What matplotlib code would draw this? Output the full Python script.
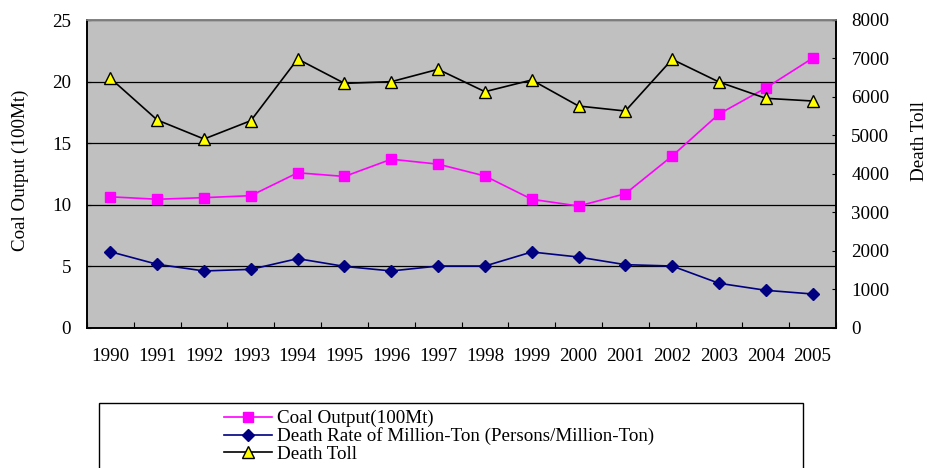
import matplotlib
matplotlib.use("Agg")
import matplotlib.pyplot as plt
from matplotlib.lines import Line2D
from matplotlib.patches import Rectangle
from matplotlib.ticker import FixedLocator, NullFormatter

plt.rcParams['font.family'] = ['Liberation Serif', 'DejaVu Serif']

years = ['1990', '1991', '1992', '1993', '1994', '1995', '1996', '1997',
         '1998', '1999', '2000', '2001', '2002', '2003', '2004', '2005']
coal_output = [10.65, 10.45, 10.58, 10.74, 12.6, 12.3, 13.7, 13.3,
               12.34, 10.45, 9.9, 10.9, 13.96, 17.37, 19.48, 21.9]
death_rate = [6.19, 5.17, 4.63, 4.76, 5.63, 5.0, 4.63, 5.03,
              5.03, 6.17, 5.76, 5.14, 5.03, 3.63, 3.06, 2.76]
death_toll = [6486, 5403, 4909, 5385, 6987, 6355, 6398, 6719,
              6138, 6442, 5766, 5636, 6979, 6390, 5966, 5896]

FS = 13.7
W, H = 927, 468
fig = plt.figure(figsize=(W / 100, H / 100), dpi=100)
ax = fig.add_axes([87 / W, (H - 328) / H, 749 / W, 308 / H])
ax.set_facecolor('#C0C0C0')

x = list(range(len(years)))
ax.plot(x, coal_output, color='#FF00FF', lw=1.2, marker='s', ms=7.2,
        mfc='#FF00FF', mec='#FF00FF', zorder=3)
ax.plot(x, death_rate, color='#000080', lw=1.2, marker='D', ms=6,
        mfc='#000080', mec='#000080', zorder=3)

ax.set_xlim(-0.5, len(years) - 0.5)
ax.set_ylim(0, 25)
ax.set_yticks(range(0, 26, 5))
ax.yaxis.grid(True, color='black', lw=0.9)
ax.set_axisbelow(True)

ax.set_xticks(x)
ax.set_xticklabels(years)
ax.xaxis.set_minor_locator(FixedLocator([i - 0.5 for i in range(len(years) + 1)]))
ax.xaxis.set_minor_formatter(NullFormatter())
ax.tick_params(axis='x', which='major', length=0, pad=14.5, labelsize=FS)
ax.tick_params(axis='x', which='minor', direction='in', length=4, width=0.8)
ax.tick_params(axis='y', direction='in', length=3, pad=11.5, labelsize=FS)

ax.set_ylabel('Coal Output (100Mt)', fontsize=FS, va='center')
ax.yaxis.set_label_coords(-0.0895, 0.513)

ax2 = ax.twinx()
ax2.plot(x, death_toll, color='black', lw=1.2, marker='^', ms=9,
         mfc='#FFFF00', mec='black', mew=1, zorder=3)
ax2.set_ylim(0, 8000)
ax2.set_yticks(range(0, 8001, 1000))
ax2.tick_params(axis='y', direction='in', length=3, pad=11, labelsize=FS)
ax2.set_ylabel('Death Toll', fontsize=FS, rotation=90, va='center')
ax2.yaxis.set_label_coords(1.112, 0.607)

for a in (ax, ax2):
    a.spines['top'].set_color('#808080')
    a.spines['top'].set_linewidth(1.2)
    for s in ('left', 'right', 'bottom'):
        a.spines[s].set_color('black')
        a.spines[s].set_linewidth(1.2)

# legend box runs off the bottom of the figure
fig.add_artist(Rectangle((99 / W, -0.2), (803 - 99) / W, (H - 403) / H + 0.2,
                         transform=fig.transFigure, fill=False,
                         edgecolor='black', lw=1, clip_on=False))

handles = [
    Line2D([], [], color='#FF00FF', lw=1.2, marker='s', ms=7.2, mfc='#FF00FF', mec='#FF00FF'),
    Line2D([], [], color='#000080', lw=1.2, marker='D', ms=6, mfc='#000080', mec='#000080'),
    Line2D([], [], color='black', lw=1.2, marker='^', ms=9, mfc='#FFFF00', mec='black'),
]
labels = ['Coal Output(100Mt)',
          'Death Rate of Million-Ton (Persons/Million-Ton)',
          'Death Toll']
fig.legend(handles, labels, loc='upper left', bbox_to_anchor=(224 / W, (H - 410) / H),
           frameon=False, fontsize=FS, handlelength=2.5, handletextpad=0.3,
           labelspacing=0.0, borderpad=0, borderaxespad=0)

fig.savefig('out.png', dpi=100)
